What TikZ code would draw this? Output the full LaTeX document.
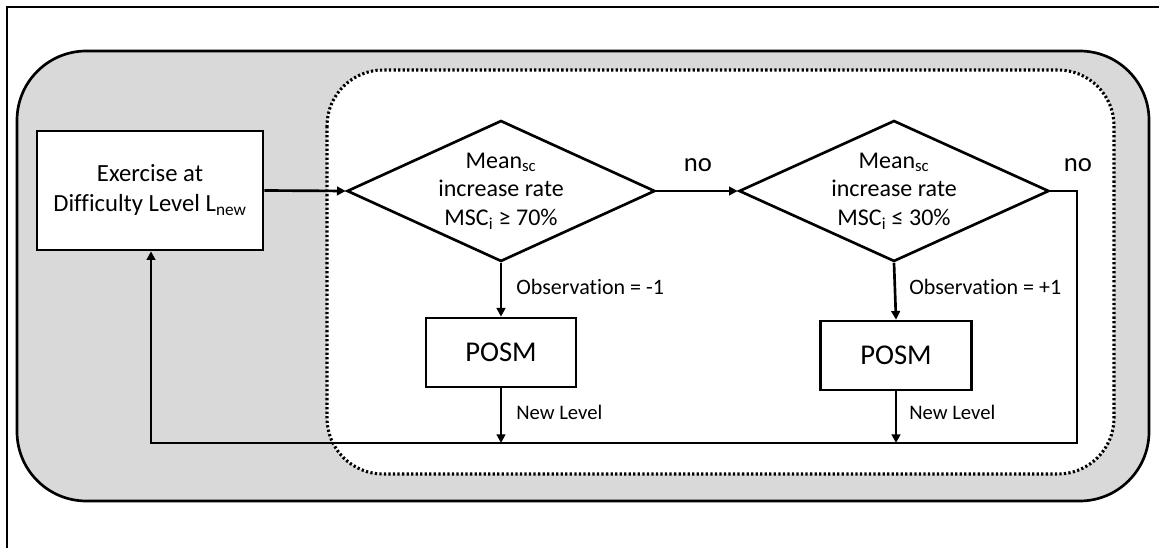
\documentclass[tikz,border=0pt]{standalone}
\usepackage{fontspec}
\setmainfont{Carlito}[Ligatures=NoCommon]
\usetikzlibrary{arrows.meta,shapes.geometric}
\definecolor{panelgray}{RGB}{217,217,217}
\tikzset{
  px/.style={x=0.75pt,y=-0.75pt},
  ln/.style={line width=2pt},
  arr/.style={ln,-{Triangle[length=6.5pt,width=6.5pt]}},
  boxnode/.style={draw,ln,fill=white,rectangle,inner sep=0pt,align=center},
  decision/.style={draw,ln,diamond,inner sep=0pt},
  maintext/.style={font=\fontsize{18}{21.5}\selectfont,align=center},
  lbl/.style={font=\fontsize{16.5}{20}\selectfont,anchor=west,inner sep=0pt},
  nlbl/.style={font=\fontsize{15.5}{19}\selectfont,anchor=west,inner sep=0pt},
  notext/.style={font=\fontsize{20}{24}\selectfont,inner sep=0pt}
}
\newcommand{\smallsub}[1]{\textsubscript{\scriptsize #1}}
\begin{document}
\begin{tikzpicture}[px]
\useasboundingbox (0,0) rectangle (1159,548);
% outer frame (clipped by the page)
\draw[line width=1.8pt] (7,548) -- (7,7) -- (1159,7);
% gray panel
\draw[line width=2pt,fill=panelgray,rounded corners=52pt] (17,51) rectangle (1149,501);
% dotted region
\draw[line width=2.3pt,fill=white,dash pattern=on 1.7pt off 1.7pt,rounded corners=42pt] (327,70) rectangle (1114,474);
% nodes
\node[boxnode,minimum width=169.5pt,minimum height=89.25pt,font=\fontsize{18.5}{22.5}\selectfont] (ex) at (150,190.5) {Exercise at\\Difficulty Level L\textsubscript{new}};
\node[decision,minimum width=231pt,minimum height=105.75pt,
  label={[maintext]center:Mean\textsubscript{sc}\\increase rate\\MSC\textsubscript{i} ≥ 70\%}] (d1) at (501,191) {};
\node[decision,minimum width=232.5pt,minimum height=105.75pt,
  label={[maintext]center:Mean\textsubscript{sc}\\increase rate\\MSC\textsubscript{i} ≤ 30\%}] (d2) at (894,191) {};
\node[boxnode,minimum width=112.5pt,minimum height=51.75pt,font=\fontsize{21.5}{24}\selectfont] (p1) at (501,352.5) {POSM};
\node[boxnode,minimum width=113.25pt,minimum height=51.75pt,font=\fontsize{21.5}{24}\selectfont] (p2) at (896,355.5) {POSM};
\node[notext] (no1) at (698,165) {no};
\node[notext] (no2) at (1078,165) {no};
\node[lbl] (ob1) at (516,287) {Observation = -1};
\node[lbl] (ob2) at (909,287) {Observation = +1};
\node[nlbl] (nl1) at (516,412) {New Level};
\node[nlbl] (nl2) at (909,412) {New Level};
% corner coordinates
\coordinate (cRt) at (1077,191);
\coordinate (cRb) at (1077,443);
\coordinate (cLb) at (151,443);
% connectors
\draw[arr] (ex.east) -- (d1.west);
\draw[arr] (d1.east) -- (d2.west);
\draw[arr] (d1.south) -- (p1.north);
\draw[arr] (d2.south) -- (p2.north);
\draw[arr] (p1.south) -- (p1.south |- cRb);
\draw[arr] (p2.south) -- (p2.south |- cRb);
\draw[arr] (d2.east) -- (cRt) -- (cRb) -- (cLb) -- (cLb |- ex.south);
\end{tikzpicture}
\end{document}
